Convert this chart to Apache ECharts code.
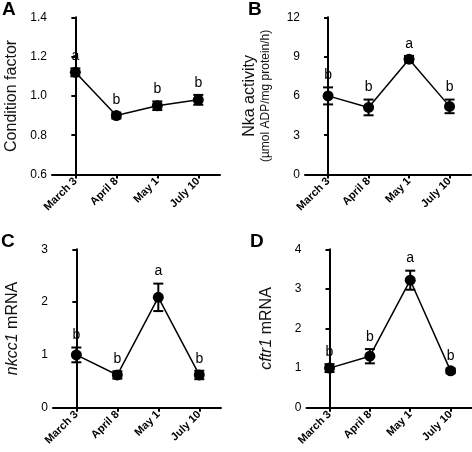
<!DOCTYPE html>
<html><head><meta charset="utf-8">
<script src="https://cdn.jsdelivr.net/npm/echarts@6/dist/echarts.min.js"></script>
<style>html,body{margin:0;padding:0;background:#fff}#c{width:472px;height:452px}</style>
</head><body><div id="c"></div>
<script>
const categories = ['March 3', 'April 8', 'May 1', 'July 10'];

const condMean = [1.12, 0.90, 0.95, 0.98];
const condErr  = [0.02, 0.015, 0.022, 0.025];
const condLetters = ['a', 'b', 'b', 'b'];

const nkaMean = [6.0, 5.12, 8.8, 5.2];
const nkaErr  = [0.65, 0.6, 0.25, 0.52];
const nkaLetters = ['b', 'b', 'a', 'b'];

const nkccMean = [1.0, 0.62, 2.09, 0.62];
const nkccErr  = [0.14, 0.07, 0.26, 0.08];
const nkccLetters = ['b', 'b', 'a', 'b'];

const cftrMean = [1.0, 1.3, 3.22, 0.93];
const cftrErr  = [0.1, 0.18, 0.24, 0.06];
const cftrLetters = ['b', 'b', 'a', 'b'];

const yTicksA = {min: 0.6, max: 1.4, interval: 0.2};
const yTicksB = {min: 0, max: 12, interval: 3};
const yTicksC = {min: 0, max: 3, interval: 1};
const yTicksD = {min: 0, max: 4, interval: 1};

const FONT = 'Liberation Sans, Arial, Helvetica, sans-serif';
const chart = echarts.init(document.getElementById('c'), null, {renderer: 'canvas'});

const panels = [
  {mean: condMean, err: condErr, letters: condLetters, yt: yTicksA, dec: 1,
   grid: {left: 52, top: 17.3, width: 168, height: 157.2},
   name: 'Condition factor', letter: 'A', lpos: {left: 2, top: 0}},
  {mean: nkaMean, err: nkaErr, letters: nkaLetters, yt: yTicksB, dec: 0,
   grid: {left: 305, top: 17.3, width: 166, height: 157.2},
   name: '{a|Nka activity}\n{b|(µmol ADP/mg protein/h)}', letter: 'B', lpos: {left: 248, top: 0}},
  {mean: nkccMean, err: nkccErr, letters: nkccLetters, yt: yTicksC, dec: 0,
   grid: {left: 53, top: 249.3, width: 168, height: 158.4},
   name: '{i|nkcc1} mRNA', letter: 'C', lpos: {left: 1, top: 232}},
  {mean: cftrMean, err: cftrErr, letters: cftrLetters, yt: yTicksD, dec: 0,
   grid: {left: 306.5, top: 249.3, width: 167, height: 158.4},
   name: '{i|cftr1} mRNA', letter: 'D', lpos: {left: 250, top: 232}}
];

const idx = [0, 1, 2, 3];
const option = {
  animation: false,
  backgroundColor: '#fff',
  textStyle: {fontFamily: FONT},
  title: panels.map(p => ({text: p.letter, left: p.lpos.left, top: p.lpos.top, padding: 0,
    textStyle: {fontFamily: FONT, fontSize: 19, fontWeight: 'bold', color: '#000'}})),
  grid: panels.map(p => Object.assign({containLabel: false}, p.grid)),
  xAxis: panels.map((p, k) => ({
    type: 'value', gridIndex: k, min: -0.57, max: 3.53,
    splitLine: {show: false},
    axisLine: {show: true, lineStyle: {color: '#000', width: 2}},
    axisTick: {show: true, customValues: idx, length: 4, lineStyle: {color: '#000', width: 2}},
    axisLabel: {show: true, customValues: idx, rotate: 45, margin: 5,
      formatter: v => categories[Math.round(v)],
      fontFamily: FONT, fontSize: 11, fontWeight: 'bold', color: '#000'}
  })),
  yAxis: panels.map((p, k) => ({
    type: 'value', gridIndex: k, min: p.yt.min, max: p.yt.max, interval: p.yt.interval,
    splitLine: {show: false},
    axisLine: {show: true, lineStyle: {color: '#000', width: 2}},
    axisTick: {show: true, length: 4, lineStyle: {color: '#000', width: 2}},
    axisLabel: {margin: 5, fontFamily: FONT, fontSize: 12, color: '#000',
      formatter: v => v.toFixed(p.dec)},
    name: p.name, nameLocation: 'middle', nameGap: 32, nameRotate: 90,
    nameTextStyle: {fontFamily: FONT, fontSize: 16, color: '#111', lineHeight: 16,
      rich: {
        a: {fontFamily: FONT, fontSize: 16, color: '#111', lineHeight: 18},
        b: {fontFamily: FONT, fontSize: 12, color: '#111', lineHeight: 14},
        i: {fontFamily: FONT, fontSize: 16, color: '#111', fontStyle: 'italic'}
      }}
  })),
  series: []
};

panels.forEach((p, k) => {
  option.series.push({
    type: 'custom', xAxisIndex: k, yAxisIndex: k, z: 3,
    data: idx.map(i => [i, p.mean[i] - p.err[i], p.mean[i] + p.err[i]]),
    encode: {x: 0, y: [1, 2]},
    renderItem: (params, api) => {
      const x = api.value(0);
      const lo = api.coord([x, api.value(1)]);
      const hi = api.coord([x, api.value(2)]);
      const hw = 5;
      const st = {stroke: '#000', lineWidth: 2};
      return {type: 'group', children: [
        {type: 'line', shape: {x1: lo[0], y1: lo[1], x2: hi[0], y2: hi[1]}, style: st},
        {type: 'line', shape: {x1: lo[0] - hw, y1: lo[1], x2: lo[0] + hw, y2: lo[1]}, style: st},
        {type: 'line', shape: {x1: hi[0] - hw, y1: hi[1], x2: hi[0] + hw, y2: hi[1]}, style: st}
      ]};
    }
  });
  option.series.push({
    type: 'line', xAxisIndex: k, yAxisIndex: k, z: 4,
    data: idx.map(i => [i, p.mean[i]]),
    symbol: 'circle', symbolSize: 11,
    itemStyle: {color: '#000'},
    lineStyle: {color: '#000', width: 1.5}
  });
  option.series.push({
    type: 'scatter', xAxisIndex: k, yAxisIndex: k, z: 5,
    data: idx.map(i => [i, p.mean[i] + p.err[i]]),
    symbolSize: 0.1, itemStyle: {color: '#000', opacity: 1},
    label: {show: true, position: 'top', distance: 5,
      formatter: params => p.letters[params.dataIndex],
      fontFamily: FONT, fontSize: 14, color: '#000', opacity: 1}
  });
});

chart.setOption(option);
</script></body></html>
